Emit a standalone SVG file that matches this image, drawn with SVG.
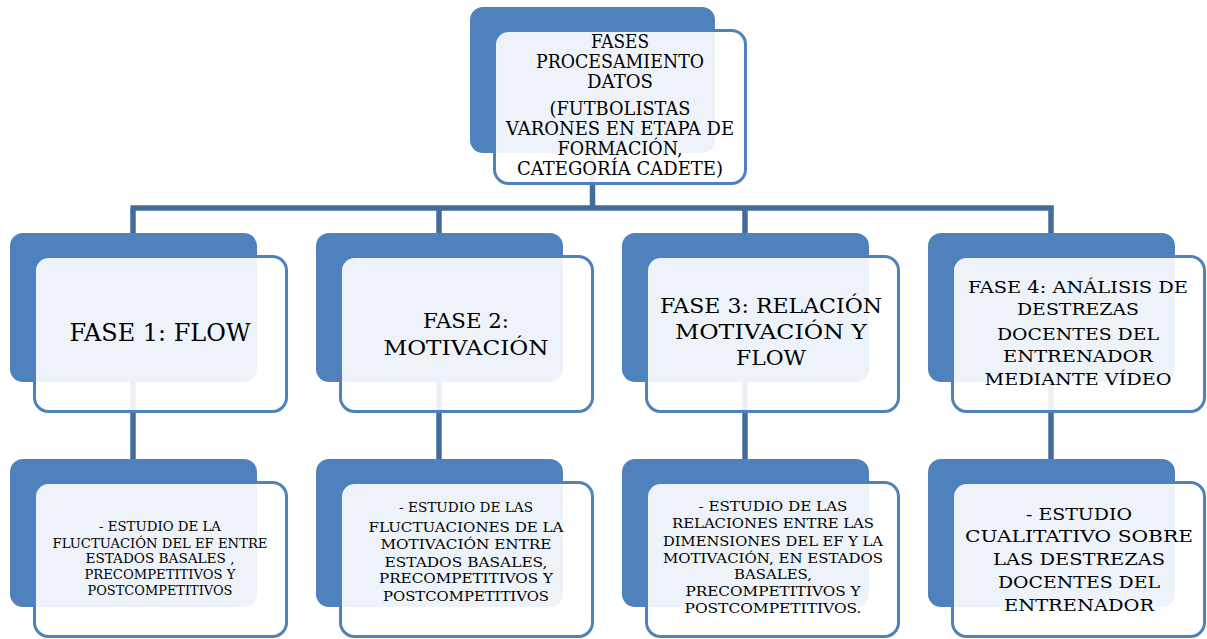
<svg xmlns="http://www.w3.org/2000/svg" width="1207" height="639" viewBox="0 0 1207 639">
<style>
.back{fill:#4F81BD;}
.front{fill:#FFFFFF;fill-opacity:0.9;stroke:#4F81BD;stroke-width:3;}
.conn{fill:none;stroke:#426C9C;stroke-width:5.5;}
text{font-family:"DejaVu Serif",serif;fill:#000000;text-anchor:middle;}
.tt{font-size:18px;}
.t27{font-size:24.5px;}
.t22{font-size:20px;}
.t18{font-size:16.4px;}
.t14{font-size:12.7px;}
.t15{font-size:13.6px;}
.t19{font-size:17.3px;}
</style>
<rect width="1207" height="639" fill="#FFFFFF"/>
<g id="connectors">
<path class="conn" d="M592.5 120 V208 M130.5 208 H1053.8 M133 208 V300 M439 208 V300 M745 208 V300 M1051 208 V300"/>
<path class="conn" d="M133 330 V470 M439 330 V470 M745 330 V470 M1051 330 V470"/>
</g>
<g id="node-top">
<rect class="back" x="470" y="7" width="245" height="146" rx="13"/>
<rect class="front" x="494.5" y="30.5" width="251" height="153" rx="14"/>
<text class="tt" x="620" y="48" textLength="58" lengthAdjust="spacingAndGlyphs">FASES</text>
<text class="tt" x="620" y="68" textLength="168" lengthAdjust="spacingAndGlyphs">PROCESAMIENTO</text>
<text class="tt" x="620" y="88" textLength="66" lengthAdjust="spacingAndGlyphs">DATOS</text>
<text class="tt" x="620" y="115" textLength="141" lengthAdjust="spacingAndGlyphs">(FUTBOLISTAS</text>
<text class="tt" x="620" y="135" textLength="228" lengthAdjust="spacingAndGlyphs">VARONES EN ETAPA DE</text>
<text class="tt" x="620" y="155" textLength="125" lengthAdjust="spacingAndGlyphs">FORMACIÓN,</text>
<text class="tt" x="620" y="175" textLength="206" lengthAdjust="spacingAndGlyphs">CATEGORÍA CADETE)</text>
</g>
<g id="fase1">
<rect class="back" x="10" y="233" width="247" height="149" rx="13"/>
<rect class="front" x="34.5" y="256.5" width="252" height="155" rx="14"/>
<text class="t27" x="160" y="341" textLength="181" lengthAdjust="spacingAndGlyphs">FASE 1: FLOW</text>
</g>
<g id="fase2">
<rect class="back" x="316" y="233" width="247" height="149" rx="13"/>
<rect class="front" x="340.5" y="256.5" width="252" height="155" rx="14"/>
<text class="t22" x="466" y="328" textLength="86" lengthAdjust="spacingAndGlyphs">FASE 2:</text>
<text class="t22" x="466" y="355" textLength="165" lengthAdjust="spacingAndGlyphs">MOTIVACIÓN</text>
</g>
<g id="fase3">
<rect class="back" x="622" y="233" width="247" height="149" rx="13"/>
<rect class="front" x="646.5" y="256.5" width="252" height="155" rx="14"/>
<text class="t22" x="771" y="313" textLength="222" lengthAdjust="spacingAndGlyphs">FASE 3: RELACIÓN</text>
<text class="t22" x="771" y="339" textLength="192" lengthAdjust="spacingAndGlyphs">MOTIVACIÓN Y</text>
<text class="t22" x="771" y="365" textLength="70" lengthAdjust="spacingAndGlyphs">FLOW</text>
</g>
<g id="fase4">
<rect class="back" x="928" y="233" width="247" height="149" rx="13"/>
<rect class="front" x="952.5" y="256.5" width="252" height="155" rx="14"/>
<text class="t18" x="1078" y="293" textLength="220" lengthAdjust="spacingAndGlyphs">FASE 4: ANÁLISIS DE</text>
<text class="t18" x="1078" y="315" textLength="122" lengthAdjust="spacingAndGlyphs">DESTREZAS</text>
<text class="t18" x="1078" y="340" textLength="162" lengthAdjust="spacingAndGlyphs">DOCENTES DEL</text>
<text class="t18" x="1078" y="362" textLength="150" lengthAdjust="spacingAndGlyphs">ENTRENADOR</text>
<text class="t18" x="1078" y="385" textLength="187" lengthAdjust="spacingAndGlyphs">MEDIANTE VÍDEO</text>
</g>
<g id="estudio1">
<rect class="back" x="10" y="459" width="247" height="148" rx="13"/>
<rect class="front" x="34.5" y="482.5" width="252" height="154" rx="14"/>
<text class="t14" x="160" y="531" textLength="122" lengthAdjust="spacingAndGlyphs">- ESTUDIO DE LA</text>
<text class="t14" x="160" y="548" textLength="215" lengthAdjust="spacingAndGlyphs">FLUCTUACIÓN DEL EF ENTRE</text>
<text class="t14" x="160" y="563" textLength="149" lengthAdjust="spacingAndGlyphs">ESTADOS BASALES ,</text>
<text class="t14" x="160" y="579" textLength="151" lengthAdjust="spacingAndGlyphs">PRECOMPETITIVOS Y</text>
<text class="t14" x="160" y="595" textLength="145" lengthAdjust="spacingAndGlyphs">POSTCOMPETITIVOS</text>
</g>
<g id="estudio2">
<rect class="back" x="316" y="459" width="247" height="148" rx="13"/>
<rect class="front" x="340.5" y="482.5" width="252" height="154" rx="14"/>
<text class="t15" x="466" y="512" textLength="134" lengthAdjust="spacingAndGlyphs">- ESTUDIO DE LAS</text>
<text class="t15" x="466" y="532" textLength="195" lengthAdjust="spacingAndGlyphs">FLUCTUACIONES DE LA</text>
<text class="t15" x="466" y="549" textLength="171" lengthAdjust="spacingAndGlyphs">MOTIVACIÓN ENTRE</text>
<text class="t15" x="466" y="567" textLength="163" lengthAdjust="spacingAndGlyphs">ESTADOS BASALES,</text>
<text class="t15" x="466" y="583" textLength="174" lengthAdjust="spacingAndGlyphs">PRECOMPETITIVOS Y</text>
<text class="t15" x="466" y="601" textLength="166" lengthAdjust="spacingAndGlyphs">POSTCOMPETITIVOS</text>
</g>
<g id="estudio3">
<rect class="back" x="622" y="459" width="247" height="148" rx="13"/>
<rect class="front" x="646.5" y="482.5" width="252" height="154" rx="14"/>
<text class="t15" x="773" y="511" textLength="149" lengthAdjust="spacingAndGlyphs">-  ESTUDIO DE  LAS</text>
<text class="t15" x="773" y="528" textLength="202" lengthAdjust="spacingAndGlyphs">RELACIONES ENTRE LAS</text>
<text class="t15" x="773" y="546" textLength="220" lengthAdjust="spacingAndGlyphs">DIMENSIONES DEL EF Y LA</text>
<text class="t15" x="773" y="563" textLength="220" lengthAdjust="spacingAndGlyphs">MOTIVACIÓN, EN ESTADOS</text>
<text class="t15" x="773" y="579" textLength="78" lengthAdjust="spacingAndGlyphs">BASALES,</text>
<text class="t15" x="773" y="596" textLength="175" lengthAdjust="spacingAndGlyphs">PRECOMPETITIVOS Y</text>
<text class="t15" x="773" y="613" textLength="177" lengthAdjust="spacingAndGlyphs">POSTCOMPETITIVOS.</text>
</g>
<g id="estudio4">
<rect class="back" x="928" y="459" width="247" height="148" rx="13"/>
<rect class="front" x="952.5" y="482.5" width="252" height="154" rx="14"/>
<text class="t19" x="1079" y="520" textLength="106" lengthAdjust="spacingAndGlyphs">- ESTUDIO</text>
<text class="t19" x="1079" y="542" textLength="228" lengthAdjust="spacingAndGlyphs">CUALITATIVO SOBRE</text>
<text class="t19" x="1079" y="565" textLength="172" lengthAdjust="spacingAndGlyphs">LAS DESTREZAS</text>
<text class="t19" x="1079" y="588" textLength="162" lengthAdjust="spacingAndGlyphs">DOCENTES DEL</text>
<text class="t19" x="1079" y="611" textLength="150" lengthAdjust="spacingAndGlyphs">ENTRENADOR</text>
</g>
</svg>
